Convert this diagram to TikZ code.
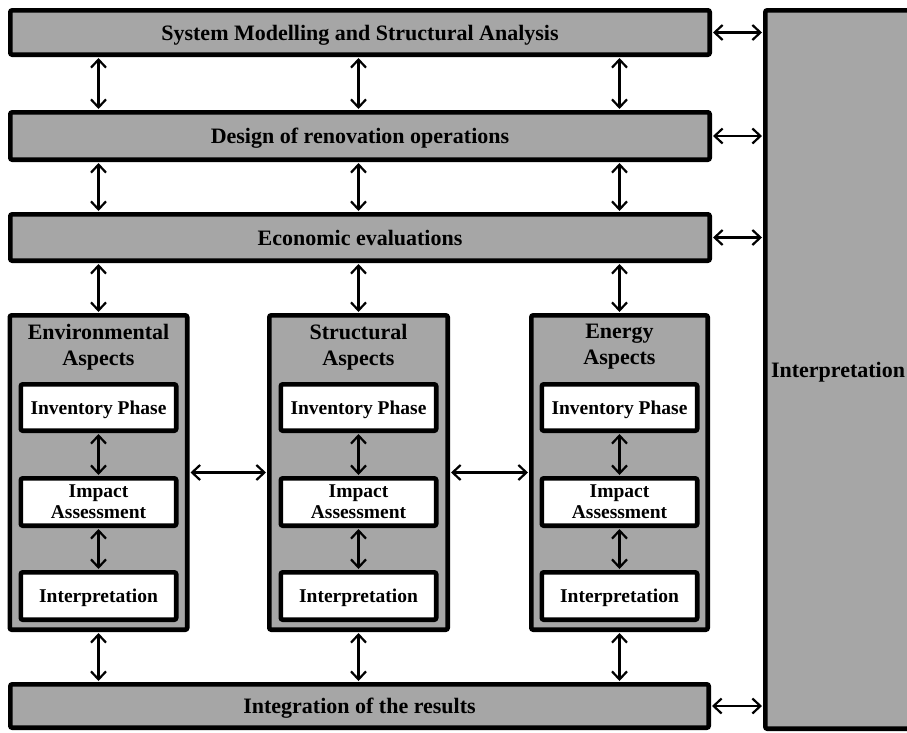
\documentclass[tikz,border=0pt]{standalone}
\usepackage{fontspec}
\setmainfont{Liberation Serif}
\usetikzlibrary{arrows.meta}
\definecolor{boxgray}{RGB}{166,166,166}
\tikzset{
  outerbox/.style={draw, line width=4.6pt, fill=boxgray, rounded corners=2pt, inner sep=0pt,
    font=\fontsize{22}{26}\selectfont\bfseries, text height=15pt, text depth=0pt},
  innerbox/.style={draw, line width=4.6pt, fill=white, rounded corners=2pt, inner sep=0pt,
    minimum width=155.4pt, font=\fontsize{19.5}{21}\selectfont\bfseries, align=center},
  onelinebox/.style={innerbox, align=left, text height=13pt, text depth=0pt},
  headtext/.style={inner sep=0pt, font=\fontsize{22}{26}\selectfont\bfseries, align=center},
  arr/.style={line width=2.2pt, {Straight Barb[length=8pt,width=15pt,line width=2.2pt]}-{Straight Barb[length=8pt,width=15pt,line width=2.2pt]}, shorten <=1pt, shorten >=1pt}
}
\begin{document}
\begin{tikzpicture}[x=1pt,y=-1pt]
\useasboundingbox (0,0) rectangle (907,732);
\fill[white] (0,0) rectangle (907,732);
% bars
\node[outerbox, minimum width=699.4pt, minimum height=44.4pt] (top) at (360,32.5) {System Modelling and Structural Analysis};
\node[outerbox, minimum width=699.4pt, minimum height=47.4pt] (design) at (360,136) {Design of renovation operations};
\node[outerbox, minimum width=699.4pt, minimum height=46.4pt] (econ) at (360,237.5) {Economic evaluations};
\node[outerbox, minimum width=698.4pt, minimum height=43.4pt] (integ) at (359.5,706) {Integration of the results};
\node[outerbox, minimum width=145.4pt, minimum height=718.4pt] (interp) at (838,369.5) {Interpretation};
% columns
\node[outerbox, minimum width=177.4pt, minimum height=314.4pt] (envcol) at (98.5,472.5) {};
\node[outerbox, minimum width=178.4pt, minimum height=314.4pt] (strcol) at (358.5,472.5) {};
\node[outerbox, minimum width=176.4pt, minimum height=314.4pt] (enecol) at (619.5,472.5) {};
\node[headtext] (envhead) at (98.5,347) {Environmental\\Aspects};
\node[headtext] (strhead) at (358.5,347) {Structural\\Aspects};
\node[headtext] (enehead) at (619.5,347) {Energy\\Aspects};
% inner boxes
\foreach \c/\x in {env/98.5, str/358.5, ene/619.5}{
  \node[onelinebox, minimum height=46.4pt] (\c inv) at (\x,407.5) {Inventory Phase};
  \node[innerbox, minimum height=47.4pt] (\c imp) at (\x,502) {Impact\\Assessment};
  \node[onelinebox, minimum height=47.4pt] (\c int) at (\x,596) {Interpretation};
  \draw[arr] (\c inv.south) -- (\c imp.north);
  \draw[arr] (\c imp.south) -- (\c int.north);
  \draw[arr] (\c col.north |- econ.south) -- (\c col.north);
  \draw[arr] (\c col.north |- top.south) -- (\c col.north |- design.north);
  \draw[arr] (\c col.north |- design.south) -- (\c col.north |- econ.north);
  \draw[arr] (\c col.south) -- (\c col.south |- integ.north);
}
% between columns
\draw[arr] (envcol.east) -- (strcol.west);
\draw[arr] (strcol.east) -- (enecol.west);
% to interpretation
\draw[arr] (top.east) -- (interp.west |- top.east);
\draw[arr] (design.east) -- (interp.west |- design.east);
\draw[arr] (econ.east) -- (interp.west |- econ.east);
\draw[arr] (integ.east) -- (interp.west |- integ.east);
\end{tikzpicture}
\end{document}
